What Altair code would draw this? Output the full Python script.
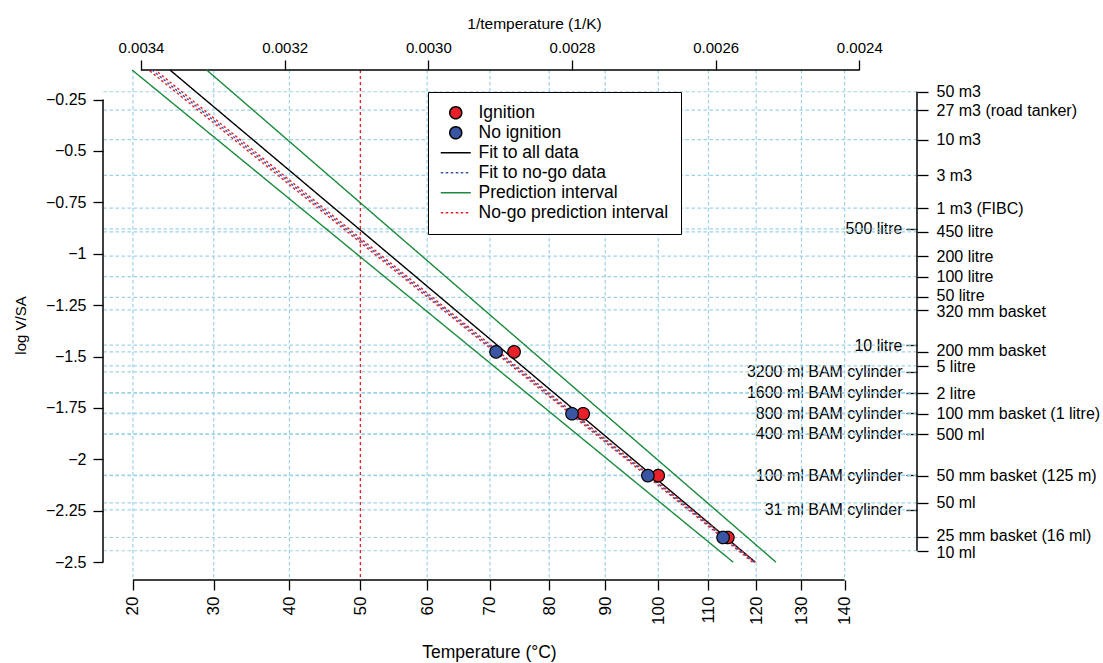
import altair as alt
import pandas as pd

# ---------------- data ----------------
series_names = ["Ignition", "No ignition", "Fit to all data", "Fit to no-go data",
                "Prediction interval", "No-go prediction interval"]

basket_log_vsa = [-1.4771, -1.7782, -2.0792, -2.3802]
ignition_temp = [74, 86, 100, 114]
no_ignition_temp = [71, 84, 98, 113]

# fitted lines: temperature (deg C) at log V/SA = -2.5 and at the top edge
line_log_vsa = [-2.5, -0.106]
fit_all_temp = [119.8, 24.5]
fit_nogo_temp = [119.5, 22.3]
pi_low_temp = [115.1, 19.9]
pi_high_temp = [124.3, 29.1]
nogo_pi_low_temp = [119.2, 21.9]
nogo_pi_high_temp = [119.8, 22.7]

reference_temp = [50]

celsius_ticks = [20, 30, 40, 50, 60, 70, 80, 90, 100, 110, 120, 130, 140]
inv_temp_ticks = [0.0034, 0.0032, 0.0030, 0.0028, 0.0026, 0.0024]
log_vsa_ticks = [-0.25, -0.5, -0.75, -1.0, -1.25, -1.5, -1.75, -2.0, -2.25, -2.5]

right_labels = ["50 m3", "27 m3 (road tanker)", "10 m3", "3 m3", "1 m3 (FIBC)",
                "450 litre", "200 litre", "100 litre", "50 litre", "320 mm basket",
                "200 mm basket", "5 litre", "2 litre", "100 mm basket (1 litre)",
                "500 ml", "50 mm basket (125 m)", "50 ml", "25 mm basket (16 ml)", "10 ml"]
right_values = [-0.2118, -0.3010, -0.4448, -0.6191, -0.7782,
                -0.8937, -1.0111, -1.1115, -1.2118, -1.2730,
                -1.4771, -1.5452, -1.6778, -1.7782,
                -1.8785, -2.0792, -2.2118, -2.3802, -2.4448]

inner_labels = ["500 litre", "10 litre", "3200 ml BAM cylinder", "1600 ml BAM cylinder",
                "800 ml BAM cylinder", "400 ml BAM cylinder", "100 ml BAM cylinder",
                "31 ml BAM cylinder"]
inner_values = [-0.8785, -1.4448, -1.5748, -1.6751, -1.7755, -1.8758, -2.0765, -2.2461]

# small label nudges (px) for tightly packed right-hand labels
nudge_values = [-1.2118, -1.2730, -1.4771, -1.5452, -2.3802, -2.4448]
nudge_px = [-1.5, 1.5, -1.0, 1.0, -1.5, 1.5]

# ---------------- styling ----------------
W, H = 814, 510
FONT = "Liberation Sans"
RED = "#e8202a"
BLUE = "#3a55a4"
GREEN = "#1b8a3c"
GRID = "#9ed3e6"
GRID_DASH = [3.5, 2.5]

x_scale = alt.Scale(domain=[0.00231967, 0.0034529], reverse=True, nice=False, zero=False)
y_scale = alt.Scale(domain=[-2.587, -0.106], nice=False, zero=False)

inv_T = "1/(datum.T + 273.15)"


def label_expr(values, labels):
    expr = "''"
    for v, l in reversed(list(zip(values, labels))):
        expr = f"abs(datum.value - ({v})) < 0.0005 ? '{l}' : {expr}"
    return expr


common_axis = dict(domain=False, grid=False, tickColor="black", tickWidth=1.3,
                   labelColor="black", labelFont=FONT, labelFontSize=15,
                   labelOverlap=False, labelBound=False, labelLimit=400, titleFont=FONT,
                   titleFontWeight="normal", titleColor="black")


def ax(**kw):
    d = dict(common_axis)
    d.update(kw)
    return alt.Axis(**d)


bottom_axis = ax(orient="bottom", values=[1 / (t + 273.15) for t in celsius_ticks],
                 labelExpr="format(1/datum.value - 273.15, '.0f')",
                 labelAngle=270, labelAlign="right", labelBaseline="middle",
                 labelPadding=6, tickSize=10, labelFlush=False, labelFontSize=17,
                 title="Temperature (°C)", titleFontSize=17.5, titleX=386, titleY=72,
                 titleAlign="center", titleBaseline="middle", titleAngle=0)

top_axis = ax(orient="top", values=inv_temp_ticks, format=".4f", tickSize=10,
              labelPadding=5, labelFlush=False,
              title="1/temperature (1/K)", titleFontSize=15.5, titleX=431, titleY=-47,
              titleAlign="center", titleBaseline="middle", titleAngle=0)

left_axis = ax(orient="left", values=log_vsa_ticks,
               labelExpr="format(datum.value, '~g')", tickSize=10, labelFontSize=16,
               labelPadding=7, title="log V/SA", titleFontSize=15,
               titleX=-83, titleY=255, titleAngle=270, titleAlign="center",
               titleBaseline="middle")

right_axis = ax(orient="right", values=right_values,
                labelExpr=label_expr(right_values, right_labels),
                tickSize=11, labelPadding=8, labelAlign="left", labelFontSize=16,
                labelBaseline="middle", title=None,
                labelOffset={"condition": [
                    {"test": f"abs(datum.value - ({v})) < 0.0005", "value": p}
                    for v, p in zip(nudge_values, nudge_px)], "value": 0})

inner_axis = ax(orient="left", offset=-W, values=inner_values,
                labelExpr=label_expr(inner_values, inner_labels),
                tickSize=11, labelPadding=4, labelAlign="right", labelFontSize=16,
                labelBaseline="middle", title=None)

legend = alt.Legend(orient="none", legendX=325, legendY=22, title=None,
                    strokeColor="black", fillColor="white", padding=12,
                    labelFont=FONT, labelFontSize=17.5, labelColor="black", labelLimit=400,
                    symbolSize=144, symbolStrokeWidth=1.5, rowPadding=1,
                    symbolOffset=7, labelOffset=14, cornerRadius=0)

line_path = "M-2.5,0H2.5"
fill_scale = alt.Scale(domain=series_names,
                       range=[RED, BLUE, "transparent", "transparent", "transparent", "transparent"])
stroke_scale = alt.Scale(domain=series_names,
                         range=["black", "black", "black", BLUE, GREEN, RED])
shape_scale = alt.Scale(domain=series_names,
                        range=["circle", "circle", line_path, line_path, line_path, line_path])
dash_scale = alt.Scale(domain=series_names,
                       range=[[1, 0], [1, 0], [1, 0], [2.5, 2.5], [1, 0], [2.5, 2.5]])

# ---------------- tables ----------------
points_df = pd.DataFrame({
    "series": ["Ignition"] * len(ignition_temp) + ["No ignition"] * len(no_ignition_temp),
    "T": ignition_temp + no_ignition_temp,
    "v": basket_log_vsa + basket_log_vsa,
    "ord": list(range(len(ignition_temp) + len(no_ignition_temp))),
})

line_defs = [
    ("Prediction interval", "pi_low", pi_low_temp),
    ("Prediction interval", "pi_high", pi_high_temp),
    ("Fit to all data", "all", fit_all_temp),
    ("No-go prediction interval", "nogo_pi_low", nogo_pi_low_temp),
    ("No-go prediction interval", "nogo_pi_high", nogo_pi_high_temp),
    ("Fit to no-go data", "nogo", fit_nogo_temp),
]
rows = []
for s, lid, temps in line_defs:
    for i, (t, v) in enumerate(zip(temps, line_log_vsa)):
        rows.append({"series": s, "line": lid, "T": t, "v": v, "ord": i})
lines_df = pd.DataFrame(rows)

celsius_df = pd.DataFrame({"T": celsius_ticks})
right_df = pd.DataFrame({"v": right_values})
inner_df = pd.DataFrame({"v": inner_values})
ref_df = pd.DataFrame({"T": reference_temp})

# ---------------- layers ----------------
vgrid = alt.Chart(celsius_df).transform_calculate(u=inv_T).mark_rule(
    color=GRID, strokeDash=GRID_DASH, strokeWidth=1.2
).encode(x=alt.X("u:Q", scale=x_scale, axis=bottom_axis))

hgrid_right = alt.Chart(right_df).mark_rule(
    color=GRID, strokeDash=GRID_DASH, strokeWidth=1.2
).encode(y=alt.Y("v:Q", scale=y_scale, axis=right_axis))

hgrid_inner = alt.Chart(inner_df).mark_rule(
    color=GRID, strokeDash=GRID_DASH, strokeWidth=1.2
).encode(y=alt.Y("v:Q", scale=y_scale, axis=inner_axis))

ref_rule = alt.Chart(ref_df).transform_calculate(u=inv_T).mark_rule(
    color=RED, strokeDash=[3, 3], strokeWidth=1.3
).encode(x=alt.X("u:Q", scale=x_scale, axis=None))

left_line = alt.Chart(pd.DataFrame({"v": [log_vsa_ticks[0]], "v2": [log_vsa_ticks[-1]]})).mark_rule(
    color="black", strokeWidth=1.5
).encode(x=alt.value(0), y=alt.Y("v:Q", scale=y_scale, axis=left_axis), y2="v2:Q")

right_line = alt.Chart(pd.DataFrame({"v": [right_values[0]], "v2": [right_values[-1]]})).mark_rule(
    color="black", strokeWidth=1.5
).encode(x=alt.value(W), y=alt.Y("v:Q", scale=y_scale, axis=None), y2="v2:Q")

bottom_line = alt.Chart(pd.DataFrame({"T": [celsius_ticks[0]], "T2": [celsius_ticks[-1]]})).transform_calculate(
    u=inv_T, u2="1/(datum.T2 + 273.15)"
).mark_rule(color="black", strokeWidth=1.5).encode(
    x=alt.X("u:Q", scale=x_scale, axis=None), x2="u2:Q", y=alt.value(H))

top_line = alt.Chart(pd.DataFrame({"u": [inv_temp_ticks[0]], "u2": [inv_temp_ticks[-1]]})).mark_rule(
    color="black", strokeWidth=1.5
).encode(x=alt.X("u:Q", scale=x_scale, axis=top_axis), x2="u2:Q", y=alt.value(0))

fit_lines = alt.Chart(lines_df).transform_calculate(u=inv_T).mark_line(strokeWidth=1.4).encode(
    x=alt.X("u:Q", scale=x_scale, axis=None),
    y=alt.Y("v:Q", scale=y_scale, axis=None),
    stroke=alt.Stroke("series:N", scale=stroke_scale, legend=legend),
    strokeDash=alt.StrokeDash("series:N", scale=dash_scale, legend=legend),
    detail="line:N",
    order="ord:Q",
)

points = alt.Chart(points_df).transform_calculate(u=inv_T).mark_point(
    filled=True, opacity=1, size=155, strokeWidth=1.2
).encode(
    x=alt.X("u:Q", scale=x_scale, axis=None),
    y=alt.Y("v:Q", scale=y_scale, axis=None),
    fill=alt.Fill("series:N", scale=fill_scale, legend=legend),
    stroke=alt.Stroke("series:N", scale=stroke_scale, legend=legend),
    shape=alt.Shape("series:N", scale=shape_scale, legend=legend),
    strokeDash=alt.StrokeDash("series:N", scale=dash_scale, legend=legend),
    order="ord:Q",
)

chart = alt.layer(
    vgrid, hgrid_right, hgrid_inner, ref_rule,
    left_line, right_line, bottom_line, top_line,
    fit_lines, points,
).resolve_axis(x="independent", y="independent").properties(
    width=W, height=H,
    background="white",
    autosize=alt.AutoSizeParams(type="none"),
    padding={"left": 103, "top": 70, "right": 186, "bottom": 83},
).configure_view(stroke=None, strokeWidth=0)

chart.save("out.html", embed_options={"renderer": "svg", "actions": False})
